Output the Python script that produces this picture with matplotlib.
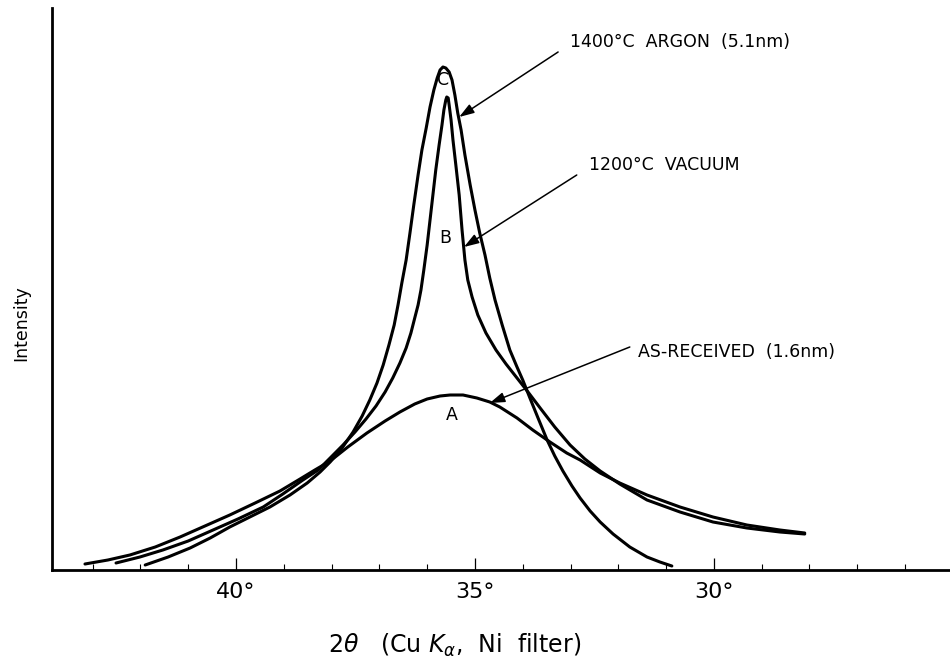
import matplotlib
matplotlib.use("Agg")
import matplotlib.pyplot as plt

# 2-theta (deg) and intensity (arbitrary units)
# A: as-received
a_theta = [43.16, 42.68, 42.22, 41.69, 41.17, 40.65, 40.13, 39.60, 39.08, 38.66,
           38.35, 38.03, 37.66, 37.26, 36.88, 36.57, 36.26, 36.00, 35.73, 35.52,
           35.25, 34.96, 34.69, 34.48, 34.12, 33.79, 33.43, 33.08, 32.80, 32.38,
           31.97, 31.40, 30.71, 30.02, 29.31, 28.62, 28.10]
a_int = [6, 10, 15, 23, 33, 44, 55, 67, 79, 91,
         100, 109, 123, 137, 149, 158, 166, 171, 174, 175,
         175, 172, 168, 163, 152, 140, 128, 117, 110, 97,
         87, 75, 63, 53, 45, 40, 37]

# B: 1200 C vacuum
b_theta = [42.51, 42.01, 41.53, 41.00, 40.48, 39.96, 39.43, 39.02, 38.60, 38.28,
           38.03, 37.76, 37.51, 37.28, 37.07, 36.88, 36.72, 36.57, 36.44, 36.34,
           36.26, 36.19, 36.13, 36.07, 36.00, 35.94, 35.88, 35.82, 35.75, 35.69,
           35.65, 35.61, 35.59, 35.56, 35.54, 35.50, 35.46, 35.40, 35.33, 35.27,
           35.21, 35.15, 35.06, 34.94, 34.77, 34.56, 34.35, 34.12, 33.89, 33.62,
           33.33, 33.01, 32.70, 32.38, 31.97, 31.40, 30.71, 30.02, 29.31, 28.62,
           28.10]
b_int = [7, 13, 20, 29, 40, 51, 63, 76, 90, 100,
         112, 125, 138, 151, 164, 178, 192, 207, 222, 237,
         252, 265, 280, 300, 325, 350, 375, 400, 425, 445,
         460, 470, 473, 472, 465, 450, 430, 405, 375, 340,
         310, 290, 273, 255, 237, 220, 206, 192, 178, 161,
         143, 125, 111, 99, 86, 70, 58, 48, 42, 38,
         36]

# C: 1400 C argon
c_theta = [41.90, 41.42, 40.96, 40.54, 40.13, 39.71, 39.29, 38.87, 38.51, 38.24,
           38.03, 37.78, 37.55, 37.36, 37.20, 37.05, 36.92, 36.80, 36.69, 36.61,
           36.53, 36.44, 36.36, 36.28, 36.19, 36.11, 36.02, 35.94, 35.86, 35.79,
           35.73, 35.67, 35.61, 35.54, 35.48, 35.42, 35.36, 35.29, 35.21, 35.10,
           35.00, 34.90, 34.79, 34.69, 34.58, 34.43, 34.27, 34.12, 34.00, 33.85,
           33.68, 33.49, 33.33, 33.16, 32.97, 32.80, 32.59, 32.38, 32.11, 31.76,
           31.40, 31.13, 30.88]
c_int = [5, 13, 22, 32, 43, 53, 63, 75, 87, 98,
         108, 122, 138, 154, 170, 187, 205, 225, 245, 265,
         287, 310, 337, 365, 395, 420, 442, 463, 480, 492,
         500, 503, 502, 498, 490, 475, 457, 440, 415, 385,
         360, 337, 315, 292, 270, 245, 220, 203, 190, 172,
         152, 130, 114, 99, 84, 72, 59, 48, 36, 23,
         13, 8, 4]

major_ticks = [40, 35, 30]
major_labels = ["40°", "35°", "30°"]
minor_ticks = list(range(26, 44))

# callouts: text, text anchor, arrow tail, arrow tip
notes = [
    ("1400°C  ARGON  (5.1nm)", (33.01, 528), (33.26, 518), (35.33, 453)),
    ("1200°C  VACUUM", (32.62, 405), (32.87, 395), (35.23, 323)),
    ("AS-RECEIVED  (1.6nm)", (31.59, 218), (31.76, 223), (34.69, 167)),
]
letters = [("C", 35.67, 490), ("B", 35.63, 332), ("A", 35.48, 155)]

fig = plt.figure(figsize=(9.5, 6.57), dpi=100)
ax = fig.add_axes([52 / 950, 87 / 657, 1 - 52 / 950, 562 / 657])

for th, it in [(a_theta, a_int), (b_theta, b_int), (c_theta, c_int)]:
    ax.plot(th, it, color="black", lw=2.2, solid_joinstyle="round",
            solid_capstyle="round")

for txt, tpos, tail, tip in notes:
    ax.annotate("", xy=tip, xytext=tail,
                arrowprops=dict(arrowstyle="-|>,head_length=0.6,head_width=0.2",
                                color="black", lw=1.1, mutation_scale=15,
                                shrinkA=0, shrinkB=0))
    ax.text(tpos[0], tpos[1], txt, ha="left", va="center", fontsize=12.5)

for lab, x, y in letters:
    ax.text(x, y, lab, ha="center", va="center", fontsize=12.5)

ax.set_xlim(43.85, 25.06)
ax.set_ylim(0, 562)
ax.spines["top"].set_visible(False)
ax.spines["right"].set_visible(False)
ax.spines["left"].set_linewidth(2)
ax.spines["bottom"].set_linewidth(2)
ax.set_xticks(major_ticks)
ax.set_xticklabels(major_labels, fontsize=16)
ax.set_xticks(minor_ticks, minor=True)
ax.tick_params(axis="x", which="major", direction="in", length=8.5, width=0.9, pad=9)
ax.tick_params(axis="x", which="minor", direction="in", length=4.3, width=0.8)
ax.set_yticks([])

fig.text(21 / 950, 1 - 323 / 657, "Intensity", rotation=90, ha="center",
         va="center", fontsize=12.5)
fig.text(455 / 950, 1 - 645 / 657, r"2$\theta$   (Cu $K_{\alpha}$,  Ni  filter)",
         ha="center", va="center", fontsize=17)

fig.savefig("out.png", dpi=100)
